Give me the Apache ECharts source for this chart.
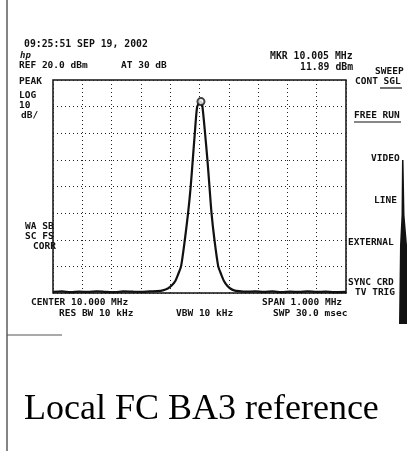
<!DOCTYPE html>
<html><head><meta charset="utf-8">
<script src="https://cdn.jsdelivr.net/npm/echarts@6/dist/echarts.min.js"></script>
<style>html,body{margin:0;padding:0;background:#fff}#c{width:419px;height:451px}</style>
</head><body><div id="c"></div>
<script>
// Trace data (frequency in MHz, level in dBm)
const freqMHz = [9.500, 9.530, 9.560, 9.590, 9.620, 9.650, 9.680, 9.710, 9.740, 9.770, 9.800, 9.830, 9.855, 9.875, 9.892, 9.905, 9.917, 9.927, 9.937, 9.950, 9.961, 9.970, 9.977, 9.984, 9.992, 10.000, 10.005, 10.010, 10.019, 10.027, 10.034, 10.041, 10.051, 10.064, 10.074, 10.084, 10.094, 10.105, 10.118, 10.135, 10.160, 10.190, 10.220, 10.250, 10.280, 10.310, 10.340, 10.370, 10.400, 10.430, 10.460, 10.500];
const levelDBm = [-59.6, -59.4, -59.7, -59.5, -59.6, -59.4, -59.6, -59.7, -59.4, -59.5, -59.6, -59.4, -59.3, -59.0, -58.3, -57.2, -55.6, -53.0, -50.0, -40.0, -30.0, -20.0, -10.0, 0.0, 10.0, 11.6, 11.89, 10.0, 0.0, -10.0, -20.0, -30.0, -40.0, -50.0, -53.0, -55.6, -57.2, -58.3, -59.0, -59.3, -59.5, -59.4, -59.6, -59.4, -59.7, -59.5, -59.6, -59.4, -59.6, -59.5, -59.7, -59.6];
const markerFreq = [10.005];
const markerLevel = [11.89];
const xRange = [9.5, 10.5];   // CENTER 10.000 MHz, SPAN 1.000 MHz
const yRange = [-60, 20];     // REF 20.0 dBm, 10 dB/div

const F = '"DejaVu Sans Mono", "Liberation Mono", monospace';
function t(text, x, y, size, extra) {
  return Object.assign({ type: 'text', x: x, y: y, z: 10,
    style: { text: text, font: 'bold ' + (size || 9.5) + 'px ' + F, fill: '#111', verticalAlign: 'middle', align: 'left' } }, extra || {});
}
function ln(x1, y1, x2, y2, w, c) {
  return { type: 'line', z: 10, shape: { x1: x1, y1: y1, x2: x2, y2: y2 }, style: { stroke: c || '#111', lineWidth: w || 1 } };
}

const chart = echarts.init(document.getElementById('c'), null, { renderer: 'canvas' });
chart.setOption({
  animation: false,
  backgroundColor: '#fff',
  grid: { left: 53, right: 73, top: 80, height: 213, show: true, borderColor: '#111', borderWidth: 1.5, backgroundColor: 'transparent' },
  xAxis: { type: 'value', min: xRange[0], max: xRange[1], interval: 0.1,
    axisLine: { show: false }, axisTick: { show: false }, axisLabel: { show: false },
    splitLine: { show: true, lineStyle: { color: '#222', type: [1, 3], width: 1 } } },
  yAxis: { type: 'value', min: yRange[0], max: yRange[1], interval: 10,
    axisLine: { show: false }, axisTick: { show: false }, axisLabel: { show: false },
    splitLine: { show: true, lineStyle: { color: '#222', type: [1, 3], width: 1 } } },
  series: [
    { type: 'line', data: freqMHz.map((f, i) => [f, levelDBm[i]]), showSymbol: false, smooth: 0.25,
      lineStyle: { color: '#111', width: 2.2 }, z: 5 },
    { type: 'scatter', data: markerFreq.map((f, i) => [f, markerLevel[i]]), symbol: 'circle', symbolSize: 7,
      itemStyle: { color: '#fff', borderColor: '#111', borderWidth: 2 }, z: 6 }
  ],
  graphic: [
    // scanned page edges
    ln(7, 0, 7, 451, 1.2, '#333'),
    ln(7, 335, 62, 335, 1, '#555'),
    { type: 'polygon', z: 10, shape: { points: [[402, 160], [403.5, 160], [404.5, 215], [407, 245], [407, 324], [399, 324], [400, 245], [401.5, 215]] }, style: { fill: '#111' } },
    // header
    t('09:25:51 SEP 19, 2002', 24, 44, 9.8),
    t('hp', 20, 56, 8.5, { style: { text: 'hp', font: 'italic bold 9px ' + F, fill: '#111', verticalAlign: 'middle', align: 'left' } }),
    t('REF 20.0 dBm', 19, 66),
    t('AT 30 dB', 121, 66),
    t('MKR 10.005 MHz', 270, 56, 9.8),
    t('11.89 dBm', 300, 67, 9.8),
    t('SWEEP', 375, 72),
    t('CONT SGL', 355, 82),
    ln(380, 88, 402, 88, 1.2),
    t('PEAK', 19, 82),
    t('LOG', 19, 96),
    t('10', 19, 106),
    t('dB/', 21, 116),
    t('FREE RUN', 354, 116),
    ln(354, 122, 401, 122, 1.2),
    t('VIDEO', 371, 159),
    t('LINE', 374, 201),
    t('EXTERNAL', 348, 243),
    t('SYNC CRD', 348, 283),
    t('TV TRIG', 355, 293),
    t('WA SB', 25, 227),
    t('SC FS', 25, 237),
    t('CORR', 33, 247),
    // footer
    t('CENTER 10.000 MHz', 31, 303),
    t('SPAN 1.000 MHz', 262, 303),
    t('RES BW 10 kHz', 59, 314),
    t('VBW 10 kHz', 176, 314),
    t('SWP 30.0 msec', 273, 314),
    { type: 'text', x: 24, y: 392, z: 10, style: { text: 'Local FC BA3 reference', font: '36px "Liberation Serif", "Times New Roman", serif', fill: '#000', verticalAlign: 'alphabetic', align: 'left' } }
  ]
});
</script></body></html>
